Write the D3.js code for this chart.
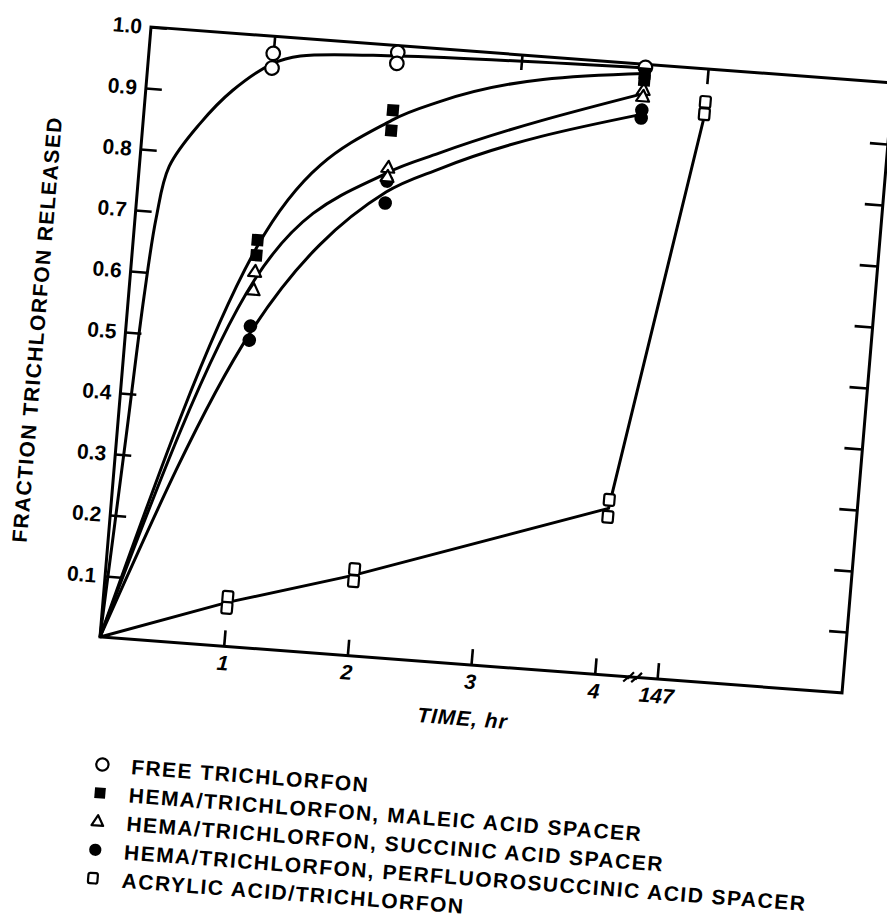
<!DOCTYPE html>
<html>
<head>
<meta charset="utf-8">
<script src="https://cdn.jsdelivr.net/npm/d3@7"></script>
<style>
  body { margin: 0; background: #fff; }
  svg { display: block; }
  text { font-family: "Liberation Sans", Arial, Helvetica, sans-serif; font-weight: bold; fill: #000; }
</style>
</head>
<body>
<svg id="chart" width="887" height="922"></svg>
<script>
// ---------- data ----------
const xTickValues = [1, 2, 3, 4, 147];
const xTickLabels = ["1", "2", "3", "4", "147"];
const yTickValues = [0.1, 0.2, 0.3, 0.4, 0.5, 0.6, 0.7, 0.8, 0.9];
const yLabelValues = [0.1, 0.2, 0.3, 0.4, 0.5, 0.6, 0.7, 0.8, 0.9, 1.0];
const yLabelTexts = ["0.1", "0.2", "0.3", "0.4", "0.5", "0.6", "0.7", "0.8", "0.9", "1.0"];

const seriesNames = [
  "FREE TRICHLORFON",
  "HEMA/TRICHLORFON, MALEIC ACID SPACER",
  "HEMA/TRICHLORFON, SUCCINIC ACID SPACER",
  "HEMA/TRICHLORFON, PERFLUOROSUCCINIC ACID SPACER",
  "ACRYLIC ACID/TRICHLORFON"
];
const seriesSymbols = ["openCircle", "filledSquare", "openTriangle", "filledCircle", "openSquare"];

// measured points (hours, fraction released)
const freeHours = [1, 1, 2, 2, 4];
const freeValues = [0.972, 0.948, 0.989, 0.971, 0.995];
const maleicHours = [1, 1, 2, 2, 4, 4];
const maleicValues = [0.666, 0.641, 0.894, 0.861, 0.985, 0.974];
const succinicHours = [1, 1, 2, 2, 4, 4];
const succinicValues = [0.614, 0.584, 0.800, 0.785, 0.958, 0.947];
const perfluoroHours = [1, 1, 2, 2, 4, 4];
const perfluoroValues = [0.525, 0.502, 0.778, 0.742, 0.925, 0.912];
const acrylicHours = [1, 1, 2, 2, 4, 4, 147, 147];
const acrylicValues = [0.081, 0.063, 0.142, 0.122, 0.286, 0.258, 0.946, 0.926];

// hand-drawn fitted curves
const freeCurve = [[0, 0], [0.075, 0.33], [0.125, 0.56], [0.17, 0.69], [0.24, 0.775], [0.46, 0.849], [0.70, 0.907], [1, 0.955], [1.22, 0.971], [2, 0.983], [4, 0.994]];
const maleicCurve = [[0, 0], [1, 0.655], [2, 0.878], [2.37, 0.914], [4, 0.985]];
const succinicCurve = [[0, 0], [1, 0.600], [2, 0.792], [2.4, 0.830], [4, 0.952]];
const perfluoroCurve = [[0, 0], [1, 0.513], [2, 0.760], [2.42, 0.805], [4, 0.918]];
const acrylicLine = [[0, 0], [1, 0.072], [2, 0.132], [4, 0.272], [147, 0.921]];

// ---------- layout ----------
const W = 744, H = 612;              // plot frame in local (unskewed) coordinates
const svg = d3.select("#chart");
svg.append("rect").attr("width", 887).attr("height", 922).attr("fill", "#fff");

// the scanned page is slightly rotated / sheared
const g = svg.append("g").attr("transform", "matrix(0.99731 0.07527 -0.0833 0.9967 151 27)");

const x = d3.scaleLinear().domain([0, 4, 147, 148.5]).range([0, 496, 558.6, W]);
const y = d3.scaleLinear().domain([0, 1]).range([H, 0]);

// frame
g.append("rect").attr("x", 0).attr("y", 0).attr("width", W).attr("height", H)
  .attr("fill", "none").attr("stroke", "#000").attr("stroke-width", 3);

function styleAxis(sel) {
  sel.select(".domain").remove();
  sel.selectAll(".tick line").attr("stroke", "#000").attr("stroke-width", 2.6);
  sel.selectAll(".tick text").attr("font-size", 21).attr("fill", "#000")
     .attr("font-family", "Liberation Sans, Arial, sans-serif").attr("font-weight", "bold");
}

// bottom axis
const bottomAxis = g.append("g").attr("transform", `translate(0,${H})`)
  .call(d3.axisBottom(x).tickValues(xTickValues).tickSizeInner(-16).tickSizeOuter(0)
    .tickPadding(9).tickFormat((d, i) => xTickLabels[i]));
styleAxis(bottomAxis);
bottomAxis.selectAll(".tick text").attr("font-style", "italic");

// top axis (ticks only)
const topAxis = g.append("g")
  .call(d3.axisTop(x).tickValues(xTickValues).tickSizeInner(-15).tickSizeOuter(0).tickFormat(""));
styleAxis(topAxis);

// left axis
const leftAxis = g.append("g")
  .call(d3.axisLeft(y).tickValues(yLabelValues).tickSizeInner(-16).tickSizeOuter(0)
    .tickPadding(9).tickFormat((d, i) => yLabelTexts[i]));
styleAxis(leftAxis);

// right axis (ticks only)
const rightAxis = g.append("g").attr("transform", `translate(${W},0)`)
  .call(d3.axisRight(y).tickValues(yTickValues).tickSizeInner(-18).tickSizeOuter(0).tickFormat(""));
styleAxis(rightAxis);

// axis break on the time axis between 4 and 147
const bx = x(4) + 36;
[0, 8].forEach(off => {
  g.append("path")
    .attr("d", `M${bx + off - 7},${H + 5} L${bx + off - 1},${H - 1} L${bx + off - 3},${H + 2} L${bx + off + 3},${H - 5}`)
    .attr("fill", "none").attr("stroke", "#000").attr("stroke-width", 2.2);
});

// axis titles
g.append("text").attr("x", 368).attr("y", 673).attr("text-anchor", "middle")
  .attr("font-size", 21).attr("font-style", "italic").attr("letter-spacing", 1)
  .text("TIME, hr");
g.append("text").attr("transform", "translate(-81,310) rotate(-90)")
  .attr("text-anchor", "middle").attr("font-size", 21).attr("letter-spacing", 1.4)
  .text("FRACTION TRICHLORFON RELEASED");

// curves
const line = d3.line().x(d => x(d[0])).y(d => y(d[1]));
const smoothFree = d3.line().x(d => x(d[0])).y(d => y(d[1])).curve(d3.curveCatmullRom.alpha(0.5));
const smooth = d3.line().x(d => x(d[0])).y(d => y(d[1])).curve(d3.curveMonotoneX);
g.append("path").attr("d", smoothFree(freeCurve)).attr("fill", "none")
  .attr("stroke", "#000").attr("stroke-width", 3).attr("stroke-linejoin", "round");
[maleicCurve, succinicCurve, perfluoroCurve].forEach(c => {
  g.append("path").attr("d", smooth(c)).attr("fill", "none")
    .attr("stroke", "#000").attr("stroke-width", 3).attr("stroke-linejoin", "round");
});
g.append("path").attr("d", line(acrylicLine)).attr("fill", "none")
  .attr("stroke", "#000").attr("stroke-width", 3);

// marker drawing
function drawMarker(sel, kind, cx, cy, scale) {
  const s = scale || 1;
  if (kind === "openCircle") {
    sel.append("circle").attr("cx", cx).attr("cy", cy).attr("r", 6.8 * s)
      .attr("fill", "#fff").attr("stroke", "#000").attr("stroke-width", 2.2);
  } else if (kind === "filledCircle") {
    sel.append("circle").attr("cx", cx).attr("cy", cy).attr("r", 6.8 * s).attr("fill", "#000");
  } else if (kind === "filledSquare") {
    const a = 12 * s;
    sel.append("rect").attr("x", cx - a / 2).attr("y", cy - a / 2).attr("width", a).attr("height", a)
      .attr("fill", "#000");
  } else if (kind === "openSquare") {
    const a = 10.5 * s, b = 11.5 * s;
    sel.append("rect").attr("x", cx - a / 2).attr("y", cy - b / 2).attr("width", a).attr("height", b)
      .attr("rx", 2).attr("fill", "#fff").attr("stroke", "#000").attr("stroke-width", 2.2);
  } else if (kind === "openTriangle") {
    const w = 13 * s, h = 11.5 * s;
    sel.append("path")
      .attr("d", `M${cx},${cy - h * 0.6} L${cx + w / 2},${cy + h * 0.4} L${cx - w / 2},${cy + h * 0.4} Z`)
      .attr("fill", "#fff").attr("stroke", "#000").attr("stroke-width", 2.2).attr("stroke-linejoin", "round");
  }
}

const markerSets = [
  [freeHours, freeValues, "openCircle"],
  [acrylicHours, acrylicValues, "openSquare"],
  [perfluoroHours, perfluoroValues, "filledCircle"],
  [succinicHours, succinicValues, "openTriangle"],
  [maleicHours, maleicValues, "filledSquare"]
];
const markers = g.append("g");
markerSets.forEach(([hs, vs, kind]) => {
  hs.forEach((h, i) => drawMarker(markers, kind, x(h), y(vs[i])));
});

// legend
const legend = g.append("g");
seriesNames.forEach((name, i) => {
  const cy = 739 + 28.5 * i;
  drawMarker(legend, seriesSymbols[i], 13, cy, 0.9);
  legend.append("text").attr("x", 42).attr("y", cy + 7.5)
    .attr("font-size", 21).attr("letter-spacing", 1.5).text(name);
});
</script>
</body>
</html>
